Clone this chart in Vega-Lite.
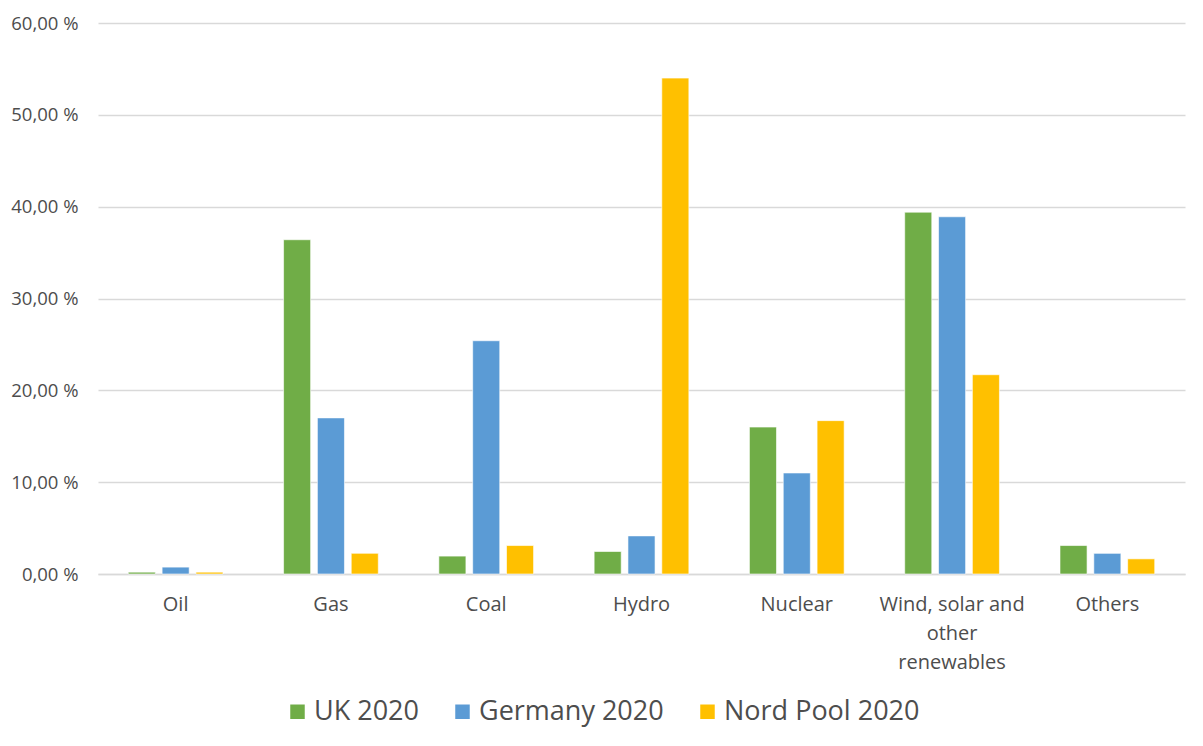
{
  "$schema": "https://vega.github.io/schema/vega-lite/v6.json",
  "width": 1087,
  "height": 551,
  "autosize": {"type": "none"},
  "padding": {"left": 98, "top": 23, "right": 18, "bottom": 172},
  "background": "white",
  "data": {
    "values": [
      {"source": "Oil", "series": "UK 2020", "share": 0.2},
      {"source": "Oil", "series": "Germany 2020", "share": 0.75},
      {"source": "Oil", "series": "Nord Pool 2020", "share": 0.2},
      {"source": "Gas", "series": "UK 2020", "share": 36.4},
      {"source": "Gas", "series": "Germany 2020", "share": 17.0},
      {"source": "Gas", "series": "Nord Pool 2020", "share": 2.25},
      {"source": "Coal", "series": "UK 2020", "share": 1.95},
      {"source": "Coal", "series": "Germany 2020", "share": 25.4},
      {"source": "Coal", "series": "Nord Pool 2020", "share": 3.1},
      {"source": "Hydro", "series": "UK 2020", "share": 2.45},
      {"source": "Hydro", "series": "Germany 2020", "share": 4.15},
      {"source": "Hydro", "series": "Nord Pool 2020", "share": 54.0},
      {"source": "Nuclear", "series": "UK 2020", "share": 16.0},
      {"source": "Nuclear", "series": "Germany 2020", "share": 11.0},
      {"source": "Nuclear", "series": "Nord Pool 2020", "share": 16.7},
      {"source": "Wind, solar and other renewables", "series": "UK 2020", "share": 39.4},
      {"source": "Wind, solar and other renewables", "series": "Germany 2020", "share": 38.9},
      {"source": "Wind, solar and other renewables", "series": "Nord Pool 2020", "share": 21.7},
      {"source": "Others", "series": "UK 2020", "share": 3.1},
      {"source": "Others", "series": "Germany 2020", "share": 2.25},
      {"source": "Others", "series": "Nord Pool 2020", "share": 1.65}
    ]
  },
  "mark": {"type": "bar", "stroke": "white", "strokeWidth": 1, "strokeOpacity": 0.6},
  "encoding": {
    "x": {
      "field": "source",
      "type": "nominal",
      "sort": ["Oil", "Gas", "Coal", "Hydro", "Nuclear", "Wind, solar and other renewables", "Others"],
      "scale": {"paddingInner": 0.39, "paddingOuter": 0.195},
      "axis": {
        "title": null,
        "labelAngle": 0,
        "labelFont": "Open Sans",
        "labelFontSize": 20,
        "labelColor": "#4d4d4d",
        "labelPadding": 20,
        "labelLineHeight": 29,
        "labelExpr": "datum.value == 'Wind, solar and other renewables' ? ['Wind, solar and', 'other', 'renewables'] : datum.value",
        "ticks": false,
        "domainColor": "#d9d9d9",
        "domainWidth": 1.5,
        "grid": false
      }
    },
    "xOffset": {
      "field": "series",
      "type": "nominal",
      "sort": ["UK 2020", "Germany 2020", "Nord Pool 2020"],
      "scale": {"paddingInner": 0.2, "paddingOuter": 0}
    },
    "y": {
      "field": "share",
      "type": "quantitative",
      "scale": {"domain": [0, 60], "nice": false},
      "axis": {
        "title": null,
        "values": [0, 10, 20, 30, 40, 50, 60],
        "labelExpr": "replace(format(datum.value, '.2f'), '.', ',') + ' %'",
        "labelFont": "Open Sans",
        "labelFontSize": 18.5,
        "labelColor": "#4d4d4d",
        "labelPadding": 20,
        "ticks": false,
        "domain": false,
        "gridColor": "#d9d9d9",
        "gridWidth": 1.5
      }
    },
    "color": {
      "field": "series",
      "type": "nominal",
      "sort": ["UK 2020", "Germany 2020", "Nord Pool 2020"],
      "scale": {
        "domain": ["UK 2020", "Germany 2020", "Nord Pool 2020"],
        "range": ["#70AD47", "#5B9BD5", "#FFC000"]
      },
      "legend": {
        "title": null,
        "orient": "none",
        "direction": "horizontal",
        "legendX": 186,
        "legendY": 675,
        "symbolType": "square",
        "symbolSize": 210,
        "symbolStrokeWidth": 0,
        "labelFont": "Open Sans",
        "labelFontSize": 27,
        "labelColor": "#4d4d4d",
        "labelOffset": 3,
        "columnPadding": 30,
        "labelLimit": 400
      }
    }
  },
  "config": {"view": {"stroke": null}}
}
